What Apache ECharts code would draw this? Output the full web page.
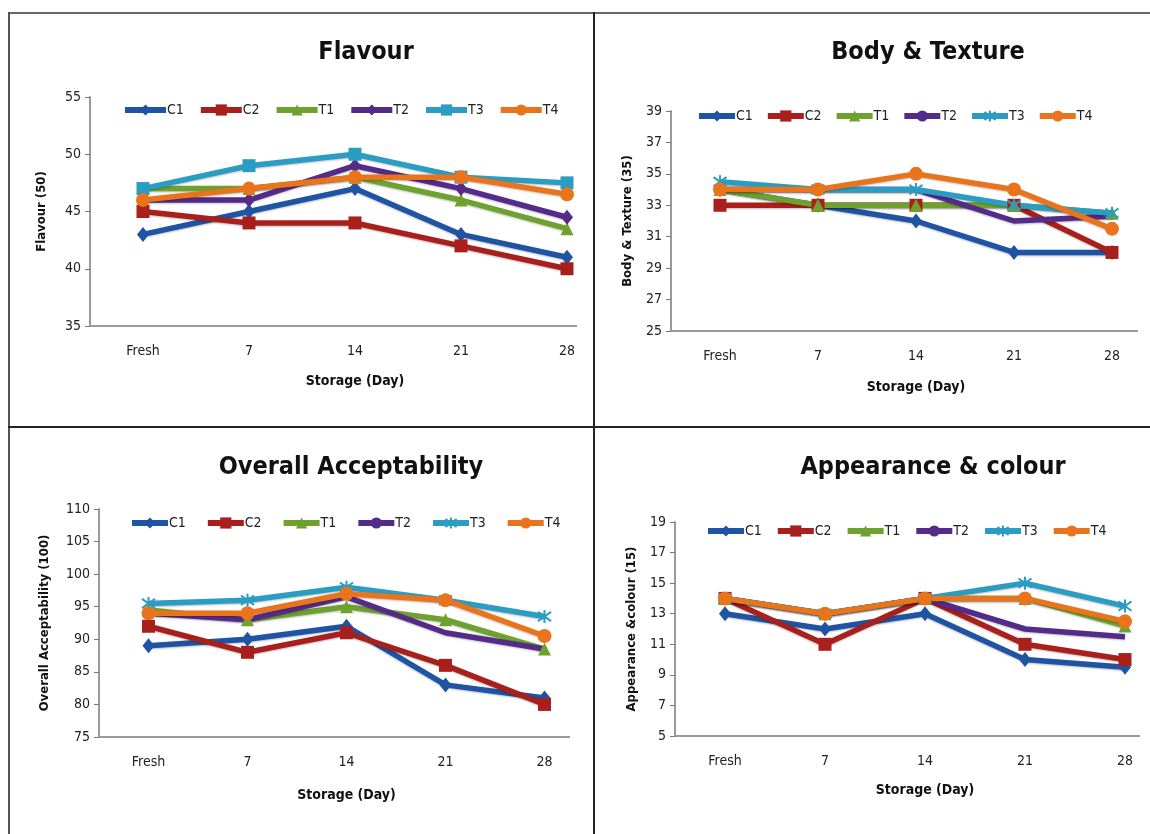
<!DOCTYPE html>
<html>
<head>
<meta charset="utf-8">
<script src="https://cdn.jsdelivr.net/npm/echarts@6/dist/echarts.min.js"></script>
<style>
  html, body { margin: 0; padding: 0; background: #fff; }
  body { width: 1150px; height: 834px; position: relative; overflow: hidden; }
  .cell { position: absolute; overflow: hidden; }
  .cell > div { position: absolute; left: 0; top: 0; }
  .rule { position: absolute; background: #3a3a3a; }
</style>
</head>
<body>
<!-- table rules around the four charts -->
<div class="rule" style="left:8px;top:12px;width:1142px;height:2px;background:#666;"></div>
<div class="rule" style="left:8px;top:12px;width:2px;height:822px;background:#555;"></div>
<div class="rule" style="left:593px;top:12px;width:2px;height:822px;background:#222;"></div>
<div class="rule" style="left:8px;top:426px;width:1142px;height:2px;background:#222;"></div>

<div class="cell" style="left:10px;top:14px;width:567px;height:410px;"><div id="flavour" style="width:680px;height:410px;"></div></div>
<div class="cell" style="left:596px;top:14px;width:542px;height:410px;"><div id="body" style="width:660px;height:410px;"></div></div>
<div class="cell" style="left:10px;top:429px;width:560px;height:405px;"><div id="overall" style="width:680px;height:405px;"></div></div>
<div class="cell" style="left:596px;top:429px;width:544px;height:405px;"><div id="appearance" style="width:660px;height:405px;"></div></div>

<script>
// Storage days and treatment names
const categories = ['Fresh', '7', '14', '21', '28'];
const seriesNames = ['C1', 'C2', 'T1', 'T2', 'T3', 'T4'];

// Flavour (50)
const flavourC1 = [43, 45, 47, 43, 41];
const flavourC2 = [45, 44, 44, 42, 40];
const flavourT1 = [47, 47, 48, 46, 43.5];
const flavourT2 = [46, 46, 49, 47, 44.5];
const flavourT3 = [47, 49, 50, 48, 47.5];
const flavourT4 = [46, 47, 48, 48, 46.5];

// Body & Texture (35)
const bodyC1 = [34, 33, 32, 30, 30];
const bodyC2 = [33, 33, 33, 33, 30];
const bodyT1 = [34, 33, 33, 33, 32.5];
const bodyT2 = [34, 34, 34, 32, 32.3];
const bodyT3 = [34.5, 34, 34, 33, 32.5];
const bodyT4 = [34, 34, 35, 34, 31.5];

// Overall Acceptability (100)
const overallC1 = [89, 90, 92, 83, 81];
const overallC2 = [92, 88, 91, 86, 80];
const overallT1 = [94.5, 93, 95, 93, 88.5];
const overallT2 = [94, 93, 96.5, 91, 88.5];
const overallT3 = [95.5, 96, 98, 96, 93.5];
const overallT4 = [94, 94, 97, 96, 90.5];

// Appearance & colour (15)
const appearC1 = [13, 12, 13, 10, 9.5];
const appearC2 = [14, 11, 14, 11, 10];
const appearT1 = [14, 13, 14, 14, 12.2];
const appearT2 = [14, 13, 14, 12, 11.5];
const appearT3 = [14, 13, 14, 15, 13.5];
const appearT4 = [14, 13, 14, 14, 12.5];

const FONT = "'Liberation Sans Narrow','DejaVu Sans Condensed','Open Sans',sans-serif";
const colors = ['#1f53a3', '#a81f1c', '#6fa12e', '#542b88', '#2b9cc2', '#ea741c'];
const ASTERISK = 'path://M0,2L10,12M10,2L0,12M5,0L5,14';

// marker sets: the Flavour chart uses a different marker scheme
const markersA = ['diamond', 'rect', 'triangle', 'diamond', 'rect', 'circle'];
const markersB = ['diamond', 'rect', 'triangle', 'none', ASTERISK, 'circle'];

function makePanel(domId, cfg) {
  const chart = echarts.init(document.getElementById(domId), null, { renderer: 'canvas' });
  const series = cfg.values.map((vals, i) => {
    const sym = cfg.markers[i];
    const isStar = sym === ASTERISK;
    return {
      name: seriesNames[i],
      type: 'line',
      data: vals,
      symbol: sym,
      symbolSize: sym === 'diamond' ? [12, 15] : (sym === 'circle' ? 14 : 13),
      showAllSymbol: true,
      lineStyle: { width: 5.5, color: colors[i], shadowColor: 'rgba(0,0,0,0.25)', shadowBlur: 2, shadowOffsetY: 1 },
      itemStyle: isStar
        ? { color: 'rgba(0,0,0,0)', borderColor: colors[i], borderWidth: 2 }
        : { color: colors[i], borderColor: colors[i], borderWidth: 0 },
      emphasis: { disabled: true },
      animation: false
    };
  });
  chart.setOption({
    animation: false,
    title: {
      text: cfg.title,
      left: cfg.titleX, top: cfg.titleY,
      textAlign: 'center',
      textStyle: { fontFamily: FONT, fontWeight: 'bold', fontSize: 25, color: '#111' }
    },
    legend: {
      data: seriesNames,
      left: cfg.legendLeft, top: cfg.legendTop,
      padding: 0,
      itemWidth: cfg.legendItemWidth, itemHeight: 14, itemGap: cfg.legendGap,
      lineStyle: { width: 6 },
      textStyle: { fontFamily: FONT, fontSize: 14, color: '#222', padding: [0, 0, 0, -4] },
      selectedMode: false
    },
    grid: cfg.grid,
    xAxis: {
      type: 'category',
      data: categories,
      boundaryGap: true,
      name: 'Storage (Day)',
      nameLocation: 'middle',
      nameGap: cfg.xNameGap,
      nameTextStyle: { fontFamily: FONT, fontWeight: 'bold', fontSize: 14, color: '#111' },
      axisLine: { lineStyle: { color: '#9a9a9a', width: 2 } },
      axisTick: { alignWithLabel: true, length: 5, lineStyle: { color: '#777' } },
      axisLabel: { fontFamily: FONT, fontSize: 14, color: '#222', margin: cfg.xLabelMargin },
      splitLine: { show: false }
    },
    yAxis: {
      type: 'value',
      min: cfg.min, max: cfg.max, interval: cfg.interval,
      name: cfg.yName,
      nameLocation: 'middle',
      nameRotate: 90,
      nameGap: cfg.yNameGap,
      nameTextStyle: { fontFamily: FONT, fontWeight: 'bold', fontSize: 13, color: '#111' },
      axisLine: { show: true, lineStyle: { color: '#9a9a9a', width: 2 } },
      axisTick: { show: true, length: 5, lineStyle: { color: '#777' } },
      axisLabel: { fontFamily: FONT, fontSize: 14, color: '#222', margin: 9 },
      splitLine: { show: false }
    },
    series: series
  });
}

makePanel('flavour', {
  title: 'Flavour', titleX: 351, titleY: 21,
  yName: 'Flavour (50)', min: 35, max: 55, interval: 5, yNameGap: 42,
  grid: { left: 80, top: 83, width: 530, height: 229 },
  xNameGap: 48, xLabelMargin: 18,
  legendLeft: 112, legendTop: 89, legendItemWidth: 41, legendGap: 14,
  markers: markersA,
  values: [flavourC1, flavourC2, flavourT1, flavourT2, flavourT3, flavourT4]
});

makePanel('body', {
  title: 'Body & Texture', titleX: 327, titleY: 21,
  yName: 'Body & Texture (35)', min: 25, max: 39, interval: 2, yNameGap: 37,
  grid: { left: 75, top: 97, width: 490, height: 220 },
  xNameGap: 49, xLabelMargin: 18,
  legendLeft: 100, legendTop: 95, legendItemWidth: 36, legendGap: 12,
  markers: markersB,
  values: [bodyC1, bodyC2, bodyT1, bodyT2, bodyT3, bodyT4]
});

makePanel('overall', {
  title: 'Overall Acceptability', titleX: 336, titleY: 21,
  yName: 'Overall Acceptability (100)', min: 75, max: 110, interval: 5, yNameGap: 48,
  grid: { left: 89, top: 80, width: 495, height: 228 },
  xNameGap: 51, xLabelMargin: 18,
  legendLeft: 119, legendTop: 87, legendItemWidth: 36, legendGap: 19,
  markers: markersB,
  values: [overallC1, overallC2, overallT1, overallT2, overallT3, overallT4]
});

makePanel('appearance', {
  title: 'Appearance & colour', titleX: 332, titleY: 21,
  yName: 'Appearance &colour (15)', min: 5, max: 19, interval: 2, yNameGap: 37,
  grid: { left: 79, top: 93, width: 500, height: 214 },
  xNameGap: 47, xLabelMargin: 18,
  legendLeft: 109, legendTop: 95, legendItemWidth: 36, legendGap: 13,
  markers: markersB,
  values: [appearC1, appearC2, appearT1, appearT2, appearT3, appearT4]
});
</script>
</body>
</html>
